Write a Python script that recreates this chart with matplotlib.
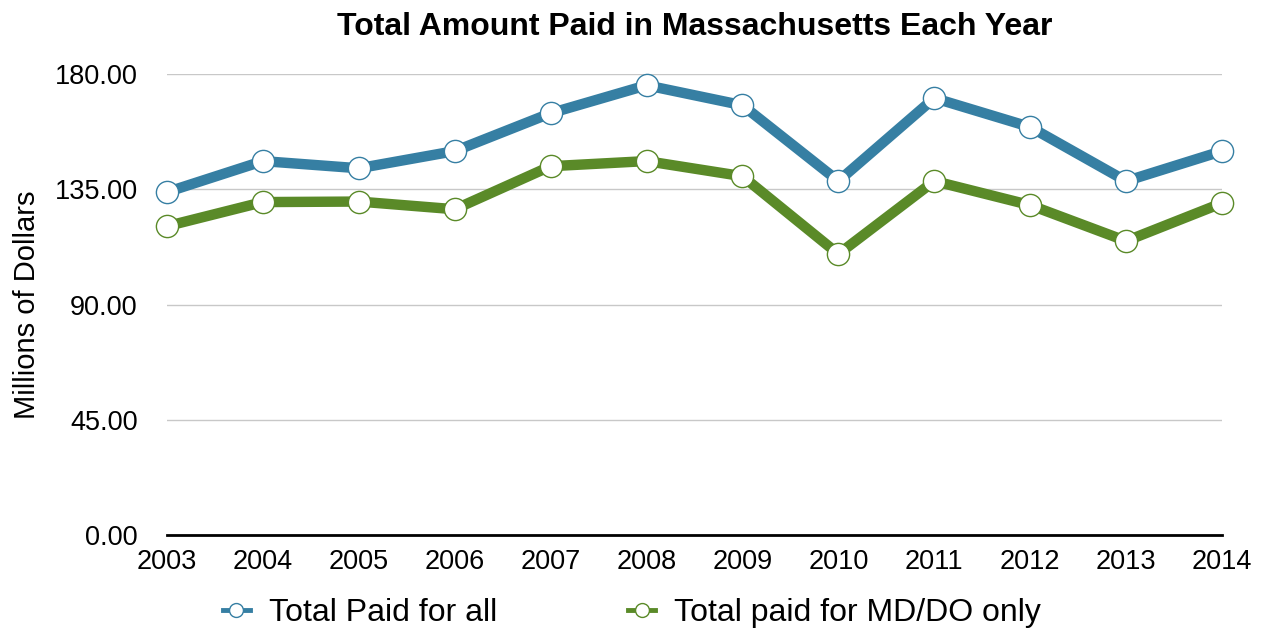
import matplotlib
matplotlib.use("Agg")
import matplotlib.pyplot as plt
from matplotlib.lines import Line2D

plt.rcParams['font.family'] = ['Liberation Sans', 'DejaVu Sans']

# data (millions of dollars)
years = [2003, 2004, 2005, 2006, 2007, 2008, 2009, 2010, 2011, 2012, 2013, 2014]
total_all = [133.9, 146.0, 143.2, 149.9, 164.7, 175.6, 167.8, 138.2, 170.6, 159.3, 138.2, 149.9]
total_mddo = [120.6, 130.0, 130.2, 127.2, 144.0, 146.0, 140.1, 109.7, 138.2, 128.8, 114.8, 129.6]
yticks = [0, 45, 90, 135, 180]

blue = '#367fa3'
green = '#5a8a28'

fig = plt.figure(figsize=(12.64, 6.31), dpi=100)
ax = fig.add_axes([0.1321, 0.1521, 0.8347, 0.7306])

ax.plot(years, total_all, color=blue, lw=7.5, marker='o', ms=16,
        mfc='white', mec=blue, mew=1, clip_on=False, zorder=3)
ax.plot(years, total_mddo, color=green, lw=7.5, marker='o', ms=16,
        mfc='white', mec=green, mew=1, clip_on=False, zorder=3)

ax.set_xlim(2003, 2014)
ax.set_ylim(0, 180)
ax.set_xticks(years)
ax.set_yticks(yticks)
ax.set_yticklabels(['%.2f' % v for v in yticks])
ax.tick_params(axis='y', length=0, pad=21, labelsize=19.5)
ax.tick_params(axis='x', length=0, pad=10, labelsize=19.5)
ax.grid(axis='y', color='#c8c8c8', lw=1)
ax.set_axisbelow(True)
for s in ['left', 'right', 'top']:
    ax.spines[s].set_visible(False)
ax.spines['bottom'].set_linewidth(2)
ax.spines['bottom'].set_zorder(4)

ax.set_ylabel('Millions of Dollars', fontsize=21, labelpad=10)
ax.set_title('Total Amount Paid in Massachusetts Each Year', fontsize=23,
             fontweight='bold', pad=28)

handles = [
    Line2D([], [], color=blue, lw=3.5, marker='o', ms=10, mfc='white', mec=blue, mew=1),
    Line2D([], [], color=green, lw=3.5, marker='o', ms=10, mfc='white', mec=green, mew=1),
]
fig.legend(handles, ['Total Paid for all', 'Total paid for MD/DO only'],
           loc='center', bbox_to_anchor=(0.50, 0.028), ncol=2, frameon=False,
           fontsize=23, handlelength=0.85, handletextpad=0.6, columnspacing=4.1)

fig.savefig('out.png', dpi=100)
